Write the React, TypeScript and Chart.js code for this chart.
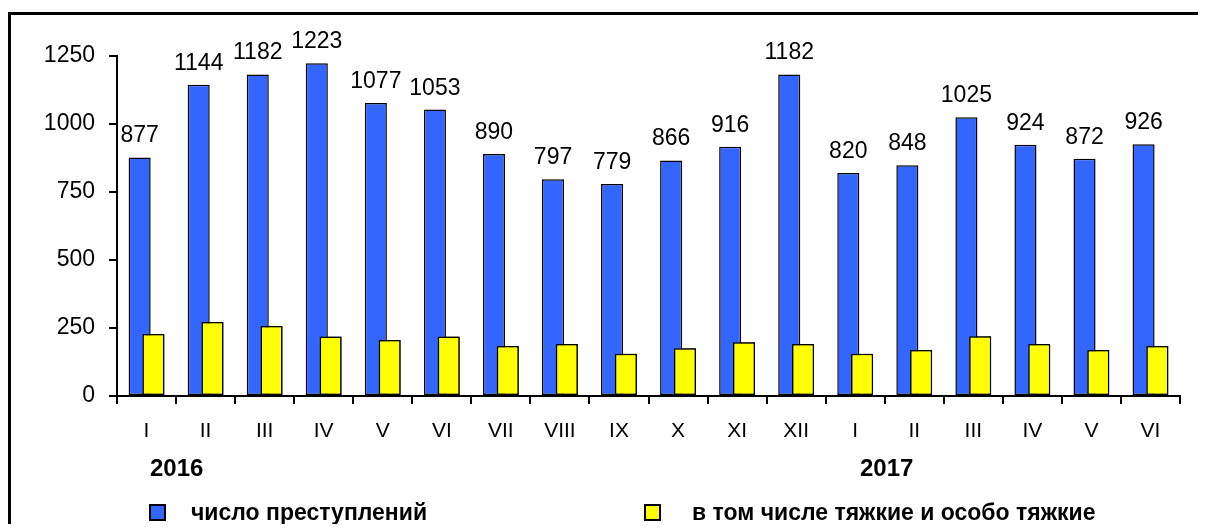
import React, { useEffect, useRef } from "react";
import { Chart, registerables } from "chart.js";

Chart.register(...registerables);

const categories = ["I", "II", "III", "IV", "V", "VI", "VII", "VIII", "IX", "X", "XI", "XII", "I", "II", "III", "IV", "V", "VI"];
const crimes = [877, 1144, 1182, 1223, 1077, 1053, 890, 797, 779, 866, 916, 1182, 820, 848, 1025, 924, 872, 926];
const grave = [228, 272, 257, 219, 206, 219, 184, 191, 155, 176, 198, 191, 155, 169, 220, 191, 169, 184];
const yTicks = [0, 250, 500, 750, 1000, 1250];
const seriesNames = ["число преступлений", "в том числе тяжкие и особо тяжкие"];
const years = ["2016", "2017"];

const BLUE = "#3366FF";
const YELLOW = "#FFFF00";
const FONT = "Arial, 'Liberation Sans', sans-serif";

const W = 1190;
const H = 516;

export default function App() {
  const ref = useRef<HTMLCanvasElement | null>(null);

  useEffect(() => {
    document.documentElement.style.overflow = "hidden";
    document.body.style.overflow = "hidden";
    const canvas = ref.current;
    if (!canvas) return;

    const overlayPlugin = {
      id: "overlay",
      afterDatasetsDraw(chart: any) {
        // second series sits in front of the first
        const m1 = chart.getDatasetMeta(1);
        m1.controller.draw();
        const ctx = chart.ctx;
        const m0 = chart.getDatasetMeta(0);
        ctx.save();
        ctx.fillStyle = "#000";
        ctx.font = `23px ${FONT}`;
        ctx.textAlign = "center";
        ctx.textBaseline = "alphabetic";
        m0.data.forEach((bar: any, i: number) => {
          ctx.fillText(String(crimes[i]), bar.x, bar.y - 15);
        });
        ctx.restore();
      },
    };

    const chart = new Chart(canvas, {
      type: "bar",
      data: {
        labels: categories,
        datasets: [
          {
            label: seriesNames[0],
            data: crimes,
            backgroundColor: BLUE,
            borderColor: "#000",
            borderWidth: 1.5,
            borderSkipped: false,
          },
          {
            label: seriesNames[1],
            data: grave,
            backgroundColor: YELLOW,
            borderColor: "#000",
            borderWidth: 1.5,
            borderSkipped: false,
          },
        ],
      },
      options: {
        responsive: false,
        animation: false,
        devicePixelRatio: 1,
        datasets: {
          bar: {
            categoryPercentage: 0.467,
            barPercentage: 1.6,
          },
        },
        layout: { padding: { top: 48, right: 18, bottom: 0, left: 0 } },
        plugins: {
          legend: { display: false },
          tooltip: { enabled: false },
        },
        scales: {
          x: {
            offset: true,
            grid: {
              offset: true,
              drawOnChartArea: false,
              drawTicks: true,
              tickLength: 8,
              color: "#000",
              lineWidth: 2,
            },
            border: { display: true, color: "#000", width: 2 },
            ticks: {
              color: "#000",
              font: { family: FONT, size: 21 },
              padding: 15,
              maxRotation: 0,
              autoSkip: false,
            },
            afterFit(scale: any) {
              scale.height = H - 388;
            },
          },
          y: {
            min: 0,
            max: 1250,
            afterBuildTicks(scale: any) {
              scale.ticks = yTicks.map((v) => ({ value: v }));
            },
            grid: {
              drawOnChartArea: false,
              drawTicks: true,
              tickLength: 8,
              color: "#000",
              lineWidth: 2,
            },
            border: { display: true, color: "#000", width: 2 },
            ticks: {
              color: "#000",
              font: { family: FONT, size: 23 },
              padding: 14,
              callback: (v: any) => String(v),
            },
            afterFit(scale: any) {
              scale.width = 109;
            },
          },
        },
      },
      plugins: [overlayPlugin],
    });

    return () => chart.destroy();
  }, []);

  const legendText: React.CSSProperties = {
    position: "absolute",
    fontFamily: FONT,
    fontWeight: "bold",
    fontSize: 23,
    color: "#000",
    lineHeight: "26px",
    whiteSpace: "nowrap",
  };
  const swatch = (color: string): React.CSSProperties => ({
    position: "absolute",
    width: 13,
    height: 13,
    background: color,
    border: "2px solid #000",
  });
  const yearStyle: React.CSSProperties = {
    position: "absolute",
    fontFamily: FONT,
    fontWeight: "bold",
    fontSize: 24,
    lineHeight: "28px",
    color: "#000",
  };

  return (
    <div style={{ position: "relative", width: W, height: H, background: "#fff" }}>
      <canvas ref={ref} width={W} height={H} style={{ position: "absolute", left: 0, top: 0, width: W, height: H }} />
      <div
        style={{
          position: "absolute",
          left: 0,
          top: 4,
          width: W + 5,
          height: H - 4,
          borderLeft: "3px solid #000",
          borderTop: "3px solid #000",
          pointerEvents: "none",
        }}
      />
      <div style={{ ...yearStyle, left: 142, top: 446 }}>{years[0]}</div>
      <div style={{ ...yearStyle, left: 852, top: 446 }}>{years[1]}</div>
      <div style={{ ...swatch(BLUE), left: 141, top: 496 }} />
      <div style={{ ...legendText, left: 183, top: 491 }}>{seriesNames[0]}</div>
      <div style={{ ...swatch(YELLOW), left: 636, top: 496 }} />
      <div style={{ ...legendText, left: 684, top: 491 }}>{seriesNames[1]}</div>
    </div>
  );
}
